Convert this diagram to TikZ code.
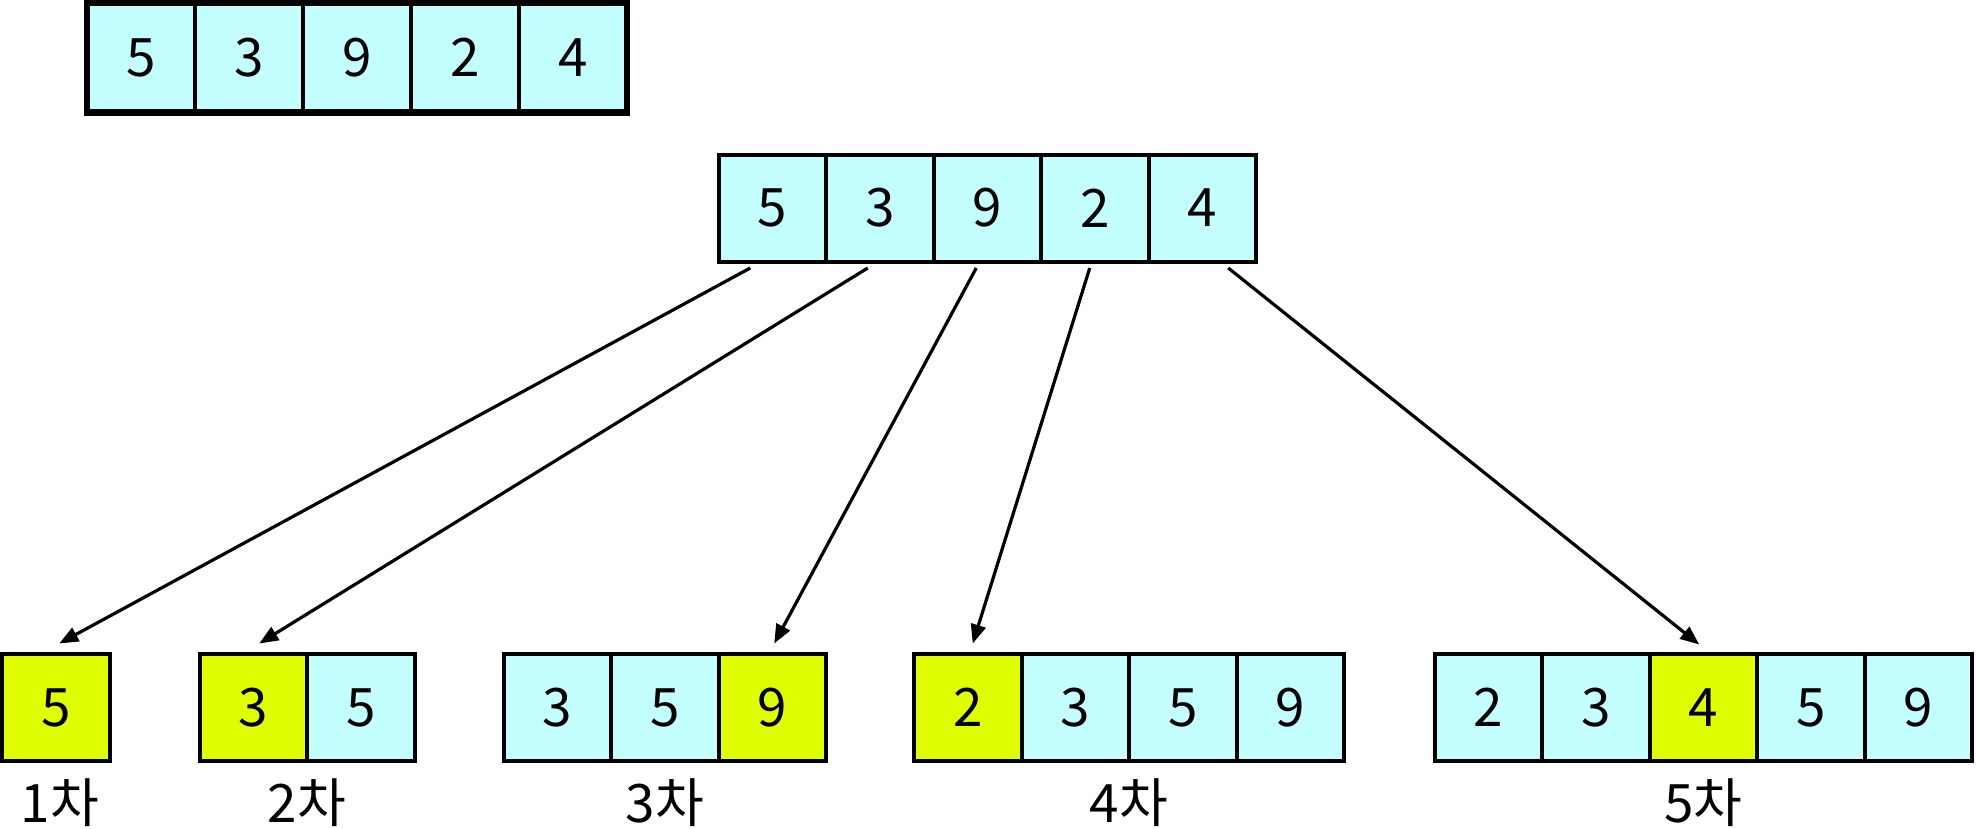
\documentclass[tikz,border=0pt]{standalone}
\usepackage{fontspec}
\setmainfont{Noto Sans CJK KR}
\usetikzlibrary{arrows.meta,calc}
\definecolor{cyanc}{RGB}{196,255,255}
\definecolor{yelc}{RGB}{223,255,0}
\tikzset{
  cell/.style={draw=black, line width=4pt, fill=cyanc, minimum width=107.5pt, minimum height=107pt,
    anchor=north west, inner sep=0pt, outer sep=0pt, font=\fontsize{53}{60}\selectfont},
  topcell/.style={cell, line width=4.5pt, minimum width=108pt, minimum height=109.5pt},
  hl/.style={fill=yelc},
  arr/.style={line width=3.2pt, -{Triangle[length=19pt,width=15pt]}},
  lab/.style={anchor=base, inner sep=0pt, font=\fontsize{53}{60}\selectfont}
}
\begin{document}
\begin{tikzpicture}[x=1pt,y=-1pt]
\useasboundingbox (0,0) rectangle (1976,828);
\clip (0,0) rectangle (1976,828);
% top array
\node[topcell] (t1) at (87,3) {5};
\node[topcell] (t2) at (195,3) {3};
\node[topcell] (t3) at (303,3) {9};
\node[topcell] (t4) at (411,3) {2};
\node[topcell] (t5) at (519,3) {4};
\draw[line width=6.5pt] (t1.north west) rectangle (t5.south east);
% middle array
\node[cell] (m1) at (718.5,154.5) {5};
\node[cell] (m2) at (826,154.5) {3};
\node[cell] (m3) at (933.5,154.5) {9};
\node[cell] (m4) at (1041,154.5) {2};
\node[cell] (m5) at (1148.5,154.5) {4};
% pass 1
\node[cell,hl] (a1) at (2,654) {5};
% pass 2
\node[cell,hl] (b1) at (199.5,654) {3};
\node[cell] (b2) at (307,654) {5};
% pass 3
\node[cell] (c1) at (503.5,654) {3};
\node[cell] (c2) at (611,654) {5};
\node[cell,hl] (c3) at (718.5,654) {9};
% pass 4
\node[cell,hl] (d1) at (914,654) {2};
\node[cell] (d2) at (1021.5,654) {3};
\node[cell] (d3) at (1129,654) {5};
\node[cell] (d4) at (1236.5,654) {9};
% pass 5
\node[cell] (e1) at (1434.5,654) {2};
\node[cell] (e2) at (1542,654) {3};
\node[cell,hl] (e3) at (1649.5,654) {4};
\node[cell] (e4) at (1757,654) {5};
\node[cell] (e5) at (1864.5,654) {9};
% labels
\node[lab] (l1) at ($(a1.south)+(4,61)$) {1차};
\node[lab] (l2) at ($(b1.south east)+(0,61)$) {2차};
\node[lab] (l3) at ($(c2.south)+(0,61)$) {3차};
\node[lab] (l4) at ($(d2.south east)+(0,61)$) {4차};
\node[lab] (l5) at ($(e3.south)+(0,61)$) {5차};
% arrows
\draw[arr] ($(m1.south)+(-22,6.5)$) -- ($(a1.north)+(3.5,-10.5)$);
\draw[arr] ($(m2.south)+(-12,6.5)$) -- ($(b1.north)+(6,-10.5)$);
\draw[arr] ($(m3.south)+(-11,6.5)$) -- ($(c3.north)+(2,-10.5)$);
\draw[arr] ($(m4.south)+(-5,6.5)$) -- ($(d1.north)+(5,-10.5)$);
\draw[arr] ($(m5.south)+(26,6.5)$) -- ($(e3.north)+(-4,-9.5)$);
\end{tikzpicture}
\end{document}
